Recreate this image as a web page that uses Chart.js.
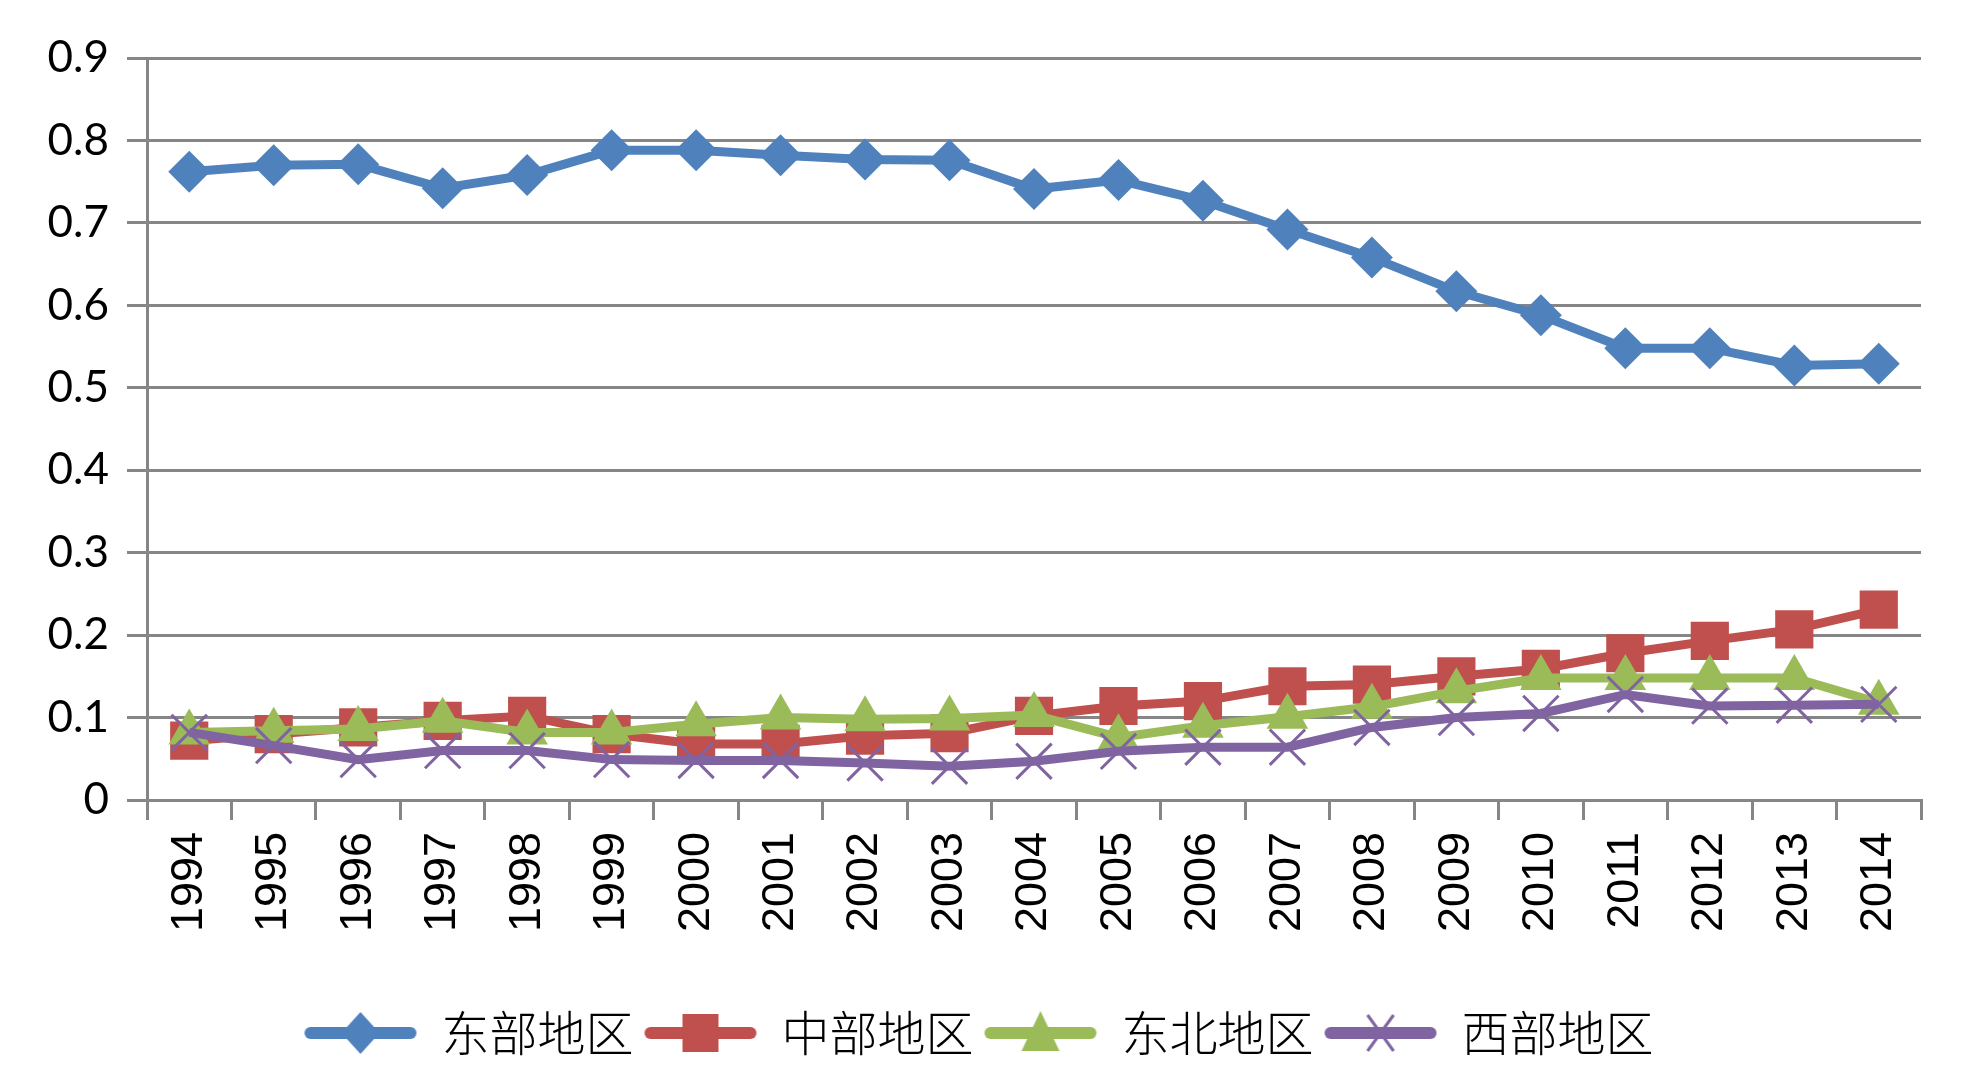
<!DOCTYPE html>
<html>
<head>
<meta charset="utf-8">
<script src="https://cdn.jsdelivr.net/npm/chart.js@4.4.1/dist/chart.umd.min.js"></script>
<style>
html,body{margin:0;padding:0;background:#fff;}
#wrap{width:1961px;height:1081px;}
</style>
</head>
<body>
<div id="wrap"><canvas id="c" width="1961" height="1081"></canvas></div>
<script>
const years = ['1994','1995','1996','1997','1998','1999','2000','2001','2002','2003','2004','2005','2006','2007','2008','2009','2010','2011','2012','2013','2014'];
const seriesNames = ['东部地区','中部地区','东北地区','西部地区'];
const east = [0.762,0.770,0.771,0.742,0.758,0.788,0.788,0.782,0.777,0.776,0.741,0.752,0.727,0.692,0.658,0.617,0.588,0.548,0.548,0.527,0.529];
const central = [0.072,0.080,0.088,0.096,0.102,0.080,0.068,0.068,0.078,0.081,0.102,0.114,0.120,0.138,0.140,0.150,0.159,0.178,0.193,0.207,0.231];
const northeast = [0.082,0.084,0.086,0.096,0.082,0.082,0.092,0.100,0.098,0.099,0.103,0.076,0.090,0.101,0.113,0.132,0.148,0.148,0.148,0.148,0.118];
const west = [0.082,0.066,0.049,0.060,0.060,0.049,0.048,0.048,0.045,0.041,0.047,0.059,0.064,0.064,0.088,0.100,0.105,0.128,0.114,0.115,0.116];
const yTickLabels = ['0','0.1','0.2','0.3','0.4','0.5','0.6','0.7','0.8','0.9'];

const colors = ['#4F81BD','#C0504D','#9BBB59','#8064A2'];
const GRID = '#868686';

function makeIcon(idx){
  const w = 114, h = 48;
  const cv = document.createElement('canvas');
  cv.width = w; cv.height = h;
  const g = cv.getContext('2d');
  const c = colors[idx], cy = h/2, cx = w/2;
  g.strokeStyle = c; g.lineWidth = 12; g.lineCap = 'round';
  g.beginPath(); g.moveTo(7, cy); g.lineTo(w-7, cy); g.stroke();
  g.fillStyle = c;
  if (idx === 0) {
    g.beginPath(); g.moveTo(cx, cy-21); g.lineTo(cx+19, cy); g.lineTo(cx, cy+21); g.lineTo(cx-19, cy); g.closePath(); g.fill();
  } else if (idx === 1) {
    g.fillRect(cx-18, cy-19, 36, 38);
  } else if (idx === 2) {
    g.beginPath(); g.moveTo(cx, cy-22); g.lineTo(cx+19, cy+18); g.lineTo(cx-19, cy+18); g.closePath(); g.fill();
  } else {
    g.lineWidth = 3; g.lineCap = 'butt';
    g.beginPath(); g.moveTo(cx-13, cy-18); g.lineTo(cx+13, cy+18); g.moveTo(cx+13, cy-18); g.lineTo(cx-13, cy+18); g.stroke();
  }
  return cv;
}
const icons = [0,1,2,3].map(makeIcon);

const seriesData = [east, central, northeast, west];
const pointStyles = ['rectRot','rect','triangle','crossRot'];
const pointRadii = [21, 27, 24, 25];
const orders = [3,2,1,0];

const datasets = seriesData.map((d, i) => ({
  label: seriesNames[i],
  data: d,
  borderColor: colors[i],
  backgroundColor: colors[i],
  borderWidth: 9,
  tension: 0,
  pointStyle: pointStyles[i],
  pointRadius: pointRadii[i],
  pointHoverRadius: pointRadii[i],
  pointBackgroundColor: colors[i],
  pointBorderColor: colors[i],
  pointBorderWidth: i === 3 ? 3 : 0,
  order: orders[i]
}));

new Chart(document.getElementById('c'), {
  type: 'line',
  data: { labels: years, datasets },
  options: {
    responsive: false,
    animation: false,
    devicePixelRatio: 1,
    layout: { padding: { left: 36, right: 40, top: 58, bottom: 14 } },
    plugins: {
      tooltip: { enabled: false },
      legend: {
        position: 'bottom',
        labels: {
          usePointStyle: true,
          pointStyleWidth: 114,
          padding: 10,
          color: '#000',
          font: { family: '"Noto Sans CJK SC", sans-serif', size: 48, weight: '300' },
          generateLabels: (chart) => chart.data.datasets.map((ds, i) => ({
            text: ds.label,
            pointStyle: icons[i],
            fillStyle: colors[i],
            strokeStyle: colors[i],
            lineWidth: 0,
            hidden: false,
            datasetIndex: i,
            fontColor: '#000'
          }))
        }
      }
    },
    scales: {
      x: {
        type: 'category',
        offset: true,
        grid: { offset: true, drawOnChartArea: false, drawTicks: true, tickLength: 20, color: GRID, lineWidth: 3 },
        border: { display: true, color: GRID, width: 3 },
        ticks: {
          maxRotation: 90, minRotation: 90, padding: 12, color: '#000',
          font: { family: '"Liberation Sans", Arial, sans-serif', size: 45 }
        },
        afterFit: (s) => { s.height = 199; }
      },
      y: {
        min: 0, max: 0.9,
        grid: { color: GRID, lineWidth: 3, drawTicks: true, tickLength: 20 },
        border: { display: true, color: GRID, width: 3 },
        ticks: {
          stepSize: 0.1, padding: 18, color: '#000',
          font: { family: 'Lato, sans-serif', size: 44 },
          callback: (v, i) => yTickLabels[i]
        },
        afterFit: (s) => { s.width = 111; }
      }
    }
  }
});
</script>
</body>
</html>
